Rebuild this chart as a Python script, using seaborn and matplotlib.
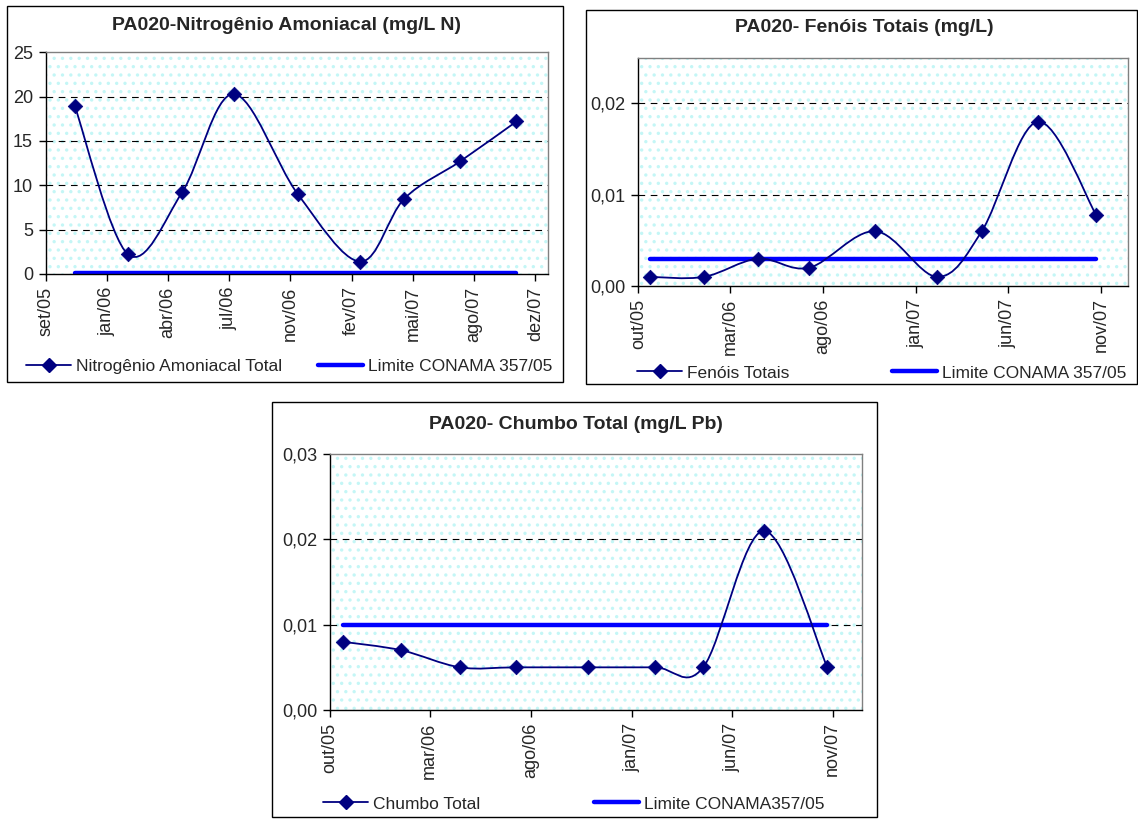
import numpy as np
import pandas as pd
import seaborn as sns
import matplotlib.pyplot as plt
import matplotlib.dates as mdates
from matplotlib.path import Path
from matplotlib.patches import PathPatch, Rectangle
from matplotlib.lines import Line2D

# --- dados ---
nitro_datas = ["2005-11-15", "2006-02-10", "2006-05-09", "2006-08-01", "2006-11-14",
               "2007-02-24", "2007-05-07", "2007-08-06", "2007-11-06"]
nitro_vals = [18.9, 2.2, 9.2, 20.3, 9.0, 1.4, 8.5, 12.7, 17.2]
nitro_lim = 0.15

coleta_datas = ["2005-10-20", "2006-01-17", "2006-04-16", "2006-07-09", "2006-10-26",
                "2007-02-05", "2007-04-19", "2007-07-20", "2007-10-24"]
fenol_vals = [0.001, 0.001, 0.003, 0.002, 0.006, 0.001, 0.006, 0.018, 0.0078]
fenol_lim = 0.003
chumbo_vals = [0.008, 0.007, 0.005, 0.005, 0.005, 0.005, 0.005, 0.021, 0.005]
chumbo_lim = 0.01

meses = ["jan", "fev", "mar", "abr", "mai", "jun", "jul", "ago", "set", "out", "nov", "dez"]

W, H = 1138, 819
sns.set_style("white")
plt.rcParams["font.family"] = ["Liberation Sans", "DejaVu Sans"]
plt.rcParams["hatch.color"] = "#C4F6F6"
plt.rcParams["hatch.linewidth"] = 1.2

fig = plt.figure(figsize=(W / 100, H / 100), dpi=100)


def px(x0, y0, x1, y1):
    return [x0 / W, 1 - y1 / H, (x1 - x0) / W, (y1 - y0) / H]


def suave(ax, x, y):
    # curva suavizada estilo excel (bezier catmull-rom)
    p = np.column_stack([x, y])
    e = np.vstack([p[0], p, p[-1]])
    verts, codes = [p[0]], [Path.MOVETO]
    for i in range(len(p) - 1):
        a, b, c, d = e[i], e[i + 1], e[i + 2], e[i + 3]
        verts += [b + (c - a) / 6, c - (d - b) / 6, c]
        codes += [Path.CURVE4] * 3
    ax.add_patch(PathPatch(Path(verts, codes), fill=False, ec="#000080", lw=1.3, zorder=3))


def painel(caixa, area, titulo, tit_xy, datas, vals, lim, nome, nome_lim,
           ylim, yticks, yfmt, xticks, xlim, leg1, leg2, leg_y):
    fig.add_artist(Rectangle((caixa[0] / W, 1 - caixa[3] / H), (caixa[2] - caixa[0]) / W,
                             (caixa[3] - caixa[1]) / H, transform=fig.transFigure,
                             fill=False, ec="black", lw=1.0))
    ax = fig.add_axes(px(*area))
    ax.set_facecolor("white")
    ax.patch.set_hatch("..")
    ax.patch.set_edgecolor("#C4F6F6")

    df = pd.DataFrame({"data": pd.to_datetime(datas), "valor": vals})
    dl = pd.DataFrame({"data": df["data"].iloc[[0, -1]], "valor": [lim, lim]})
    sns.lineplot(data=dl, x="data", y="valor", color="#0000FF", lw=3.2, ax=ax, zorder=2)
    suave(ax, mdates.date2num(df["data"]), df["valor"].values)
    sns.scatterplot(data=df, x="data", y="valor", marker="D", s=55, color="#000080",
                    edgecolor="#000080", linewidth=0.5, ax=ax, zorder=4)

    ax.set_ylim(*ylim)
    ax.set_yticks(yticks)
    ax.set_yticklabels([yfmt(v) for v in yticks])
    for v in yticks:
        if ylim[0] < v < ylim[1]:
            ax.axhline(v, color="black", lw=0.8, ls=(0, (6, 5)), zorder=1)
    ax.set_xlim(pd.Timestamp(xlim[0]), pd.Timestamp(xlim[1]))
    ax.set_xticks(xticks)
    ax.set_xticklabels([f"{meses[t.month - 1]}/{t.year % 100:02d}" for t in xticks], rotation=90)
    ax.set_xlabel("")
    ax.set_ylabel("")
    ax.tick_params(axis="both", direction="out", length=5, width=1, color="black",
                   labelsize=13, pad=4, bottom=True, left=True)
    for s in ["top", "right"]:
        ax.spines[s].set_color("#808080")
    for s in ["left", "bottom"]:
        ax.spines[s].set_color("black")
    for s in ax.spines.values():
        s.set_linewidth(1.0)

    fig.text(tit_xy[0] / W, 1 - tit_xy[1] / H, titulo, ha="center", va="center",
             fontsize=14, fontweight="bold")

    h1 = Line2D([], [], color="#000080", lw=1.3, marker="D", ms=7.5)
    h2 = Line2D([], [], color="#0000FF", lw=3.2)
    for h, lbl, x in [(h1, nome, leg1), (h2, nome_lim, leg2)]:
        fig.legend(handles=[h], labels=[lbl], loc="center left",
                   bbox_to_anchor=(x / W, 1 - leg_y / H), frameon=False, borderpad=0,
                   borderaxespad=0, handlelength=2.6, handletextpad=0.3,
                   numpoints=1, fontsize=12.5)
    return ax


virg = lambda v: f"{v:.2f}".replace(".", ",")
ticks1 = pd.date_range("2005-09-28", periods=9, freq="100D")
ticks2 = pd.date_range("2005-10-01", periods=6, freq="5MS")

painel((7, 6, 563, 382), (45.5, 52.3, 547.7, 274), "PA020-Nitrogênio Amoniacal (mg/L N)",
       (287, 26), nitro_datas, nitro_vals, nitro_lim, "Nitrogênio Amoniacal Total",
       "Limite CONAMA 357/05", (0, 25), [0, 5, 10, 15, 20, 25], lambda v: f"{v:d}",
       ticks1, ("2005-09-28", "2007-12-27"), 26, 318, 366)

painel((585.5, 10, 1137, 384), (638.3, 57.7, 1127.7, 286), "PA020- Fenóis Totais (mg/L)",
       (864, 28), coleta_datas, fenol_vals, fenol_lim, "Fenóis Totais",
       "Limite CONAMA 357/05", (0, 0.025), [0, 0.01, 0.02], virg,
       ticks2, ("2005-10-01", "2007-12-15"), 637, 892, 373)

painel((272.3, 402.3, 877.3, 816.7), (330, 454, 861.7, 710), "PA020- Chumbo Total (mg/L Pb)",
       (576, 424), coleta_datas, chumbo_vals, chumbo_lim, "Chumbo Total",
       "Limite CONAMA357/05", (0, 0.03), [0, 0.01, 0.02, 0.03], virg,
       ticks2, ("2005-10-01", "2007-12-15"), 323, 594, 804)

fig.savefig("out.png", dpi=100)
